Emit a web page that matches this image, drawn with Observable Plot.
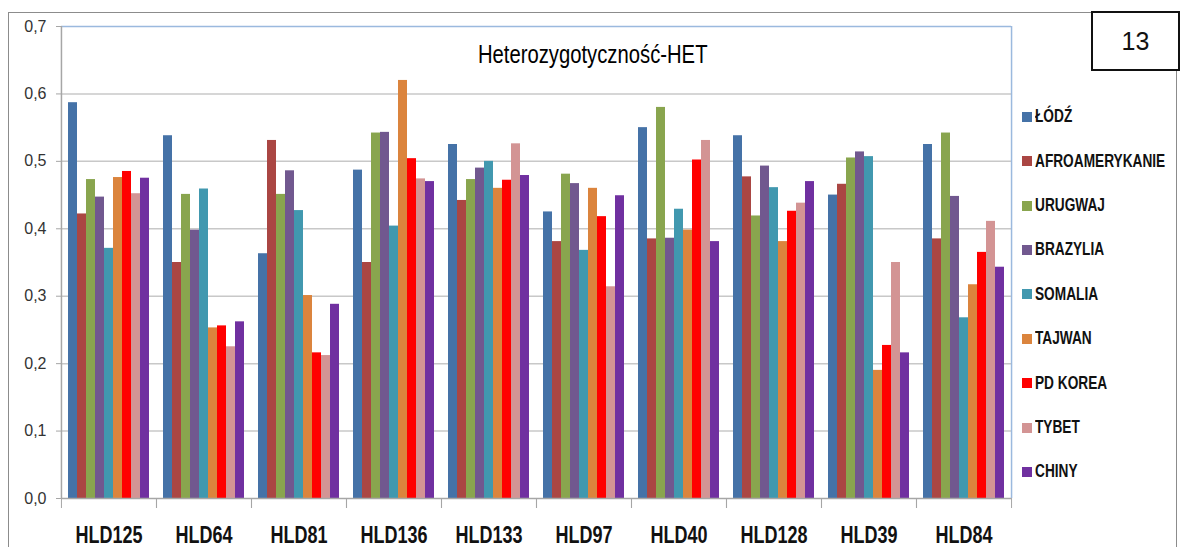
<!DOCTYPE html>
<html>
<head>
<meta charset="utf-8">
<script src="https://cdn.jsdelivr.net/npm/d3@7"></script>
<script src="https://cdn.jsdelivr.net/npm/@observablehq/plot@0.6"></script>
<style>
  html, body { margin: 0; padding: 0; background: #fff; }
  #wrap { position: relative; width: 1182px; height: 547px; overflow: hidden; background: #fff; }
  #wrap svg { position: absolute; left: 0; top: 0; }
  #border { position: absolute; left: 8px; top: 12px; width: 1169px; height: 600px; border: 1.5px solid #8c8c8c; box-sizing: border-box; }
  #title { position: absolute; left: 0; width: 1186px; top: 40px; text-align: center; font-family: "Liberation Sans", Arial, sans-serif; font-size: 25px; color: #000; }
  #title span { display: inline-block; transform: scaleX(0.81); transform-origin: center; }
  #box { position: absolute; left: 1091px; top: 11px; width: 89px; height: 60px; border: 2px solid #111; box-sizing: border-box; background: #fff; font-family: "Liberation Sans", Arial, sans-serif; font-size: 25px; color: #111; display: flex; align-items: center; justify-content: center; }
  #legend { position: absolute; left: 1022px; top: 0; font-family: "Liberation Sans", Arial, sans-serif; font-weight: bold; font-size: 18px; color: #111; }
  .item { position: absolute; left: 0; display: flex; align-items: center; white-space: nowrap; height: 20px; }
  .sw { width: 10px; height: 10px; margin-right: 3px; flex: none; }
  .item span { display: inline-block; transform: scaleX(0.76); transform-origin: left center; }
</style>
</head>
<body>
<div id="wrap">
  <div id="border"></div>
  <div id="title"></div>
  <div id="box">13</div>
  <div id="legend"></div>
</div>
<script>
const chartTitle = "Heterozygotyczność-HET";
const groups = ["HLD125", "HLD64", "HLD81", "HLD136", "HLD133", "HLD97", "HLD40", "HLD128", "HLD39", "HLD84"];
const series = ["ŁÓDŹ", "AFROAMERYKANIE", "URUGWAJ", "BRAZYLIA", "SOMALIA", "TAJWAN", "PD KOREA", "TYBET", "CHINY"];
const colors = ["#4572a7", "#aa4643", "#89a54e", "#71588f", "#4198af", "#db843d", "#ff0000", "#d39494", "#7030a0"];

const lodz      = [0.587, 0.538, 0.363, 0.487, 0.525, 0.425, 0.550, 0.538, 0.450, 0.525];
const afro      = [0.422, 0.350, 0.531, 0.350, 0.442, 0.381, 0.385, 0.477, 0.466, 0.385];
const urugwaj   = [0.473, 0.451, 0.451, 0.542, 0.473, 0.481, 0.580, 0.419, 0.505, 0.542];
const brazylia  = [0.447, 0.398, 0.486, 0.543, 0.490, 0.467, 0.386, 0.493, 0.514, 0.448];
const somalia   = [0.371, 0.459, 0.427, 0.404, 0.500, 0.368, 0.429, 0.461, 0.507, 0.268];
const tajwan    = [0.476, 0.253, 0.301, 0.620, 0.460, 0.460, 0.398, 0.381, 0.190, 0.317];
const pdKorea   = [0.485, 0.256, 0.216, 0.504, 0.472, 0.418, 0.502, 0.426, 0.227, 0.365];
const tybet     = [0.452, 0.225, 0.212, 0.474, 0.526, 0.314, 0.531, 0.438, 0.350, 0.411];
const chiny     = [0.475, 0.262, 0.288, 0.470, 0.479, 0.449, 0.381, 0.470, 0.216, 0.343];
const yTicks = [0, 0.1, 0.2, 0.3, 0.4, 0.5, 0.6, 0.7];

const valuesBySeries = [lodz, afro, urugwaj, brazylia, somalia, tajwan, pdKorea, tybet, chiny];
const data = [];
groups.forEach((g, gi) => series.forEach((s, si) => data.push({group: g, series: s, value: valuesBySeries[si][gi]})));

const W = 1182, H = 547, mL = 60, mR = 171, mT = 26, mB = 49;
const step = (W - mL - mR) / groups.length;
const font = "'Liberation Sans', Arial, sans-serif";

const plot = Plot.plot({
  width: W, height: H,
  marginLeft: mL, marginRight: mR, marginTop: mT, marginBottom: mB,
  style: {fontFamily: font, background: "transparent", overflow: "visible"},
  fx: {domain: groups, paddingInner: 0, paddingOuter: 0, label: null},
  x: {domain: series, paddingInner: 0, paddingOuter: 0.755, axis: null},
  y: {domain: [0, 0.7], label: null},
  color: {domain: series, range: colors},
  marks: [
    Plot.gridY({ticks: yTicks.slice(1, -1), stroke: "#c8c8c8", strokeOpacity: 1, strokeWidth: 1.5}),
    Plot.gridY({ticks: [0.7], stroke: "#9bb9de", strokeOpacity: 1, strokeWidth: 1.5}),
    Plot.gridFx({ticks: [groups[0]], dx: -step / 2, stroke: "#a6a6a6", strokeOpacity: 1, strokeWidth: 1.5}),
    Plot.gridFx({ticks: [groups[groups.length - 1]], dx: step / 2, stroke: "#9bb9de", strokeOpacity: 1, strokeWidth: 1.5}),
    Plot.barY(data, {fx: "group", x: "series", y: "value", fill: "series"}),
    Plot.ruleY([0], {stroke: "#a6a6a6", strokeWidth: 1.5}),
    Plot.axisY({ticks: yTicks, tickSize: 5, tickPadding: 10, stroke: "#a6a6a6",
      tickFormat: d => d.toFixed(1).replace(".", ","), fontSize: 16, fill: "#333", label: null}),
    Plot.axisFx({anchor: "bottom", tickSize: 10, dx: -step / 2, stroke: "#a6a6a6", tickFormat: () => "", label: null}),
    Plot.axisFx({anchor: "bottom", tickSize: 10, dx: step / 2, stroke: "#a6a6a6", tickFormat: () => "", label: null}),
    Plot.axisFx({anchor: "bottom", tickSize: 0, tickPadding: 27, fontSize: 24, fontWeight: "bold", fill: "#111", label: null})
  ]
});
document.getElementById("wrap").insertBefore(plot, document.getElementById("border"));

// narrow the group labels horizontally (reference font is condensed)
d3.select(plot).selectAll('g[aria-label="fx-axis tick label"] text').each(function () {
  const t = this.getAttribute("transform") || "";
  this.setAttribute("transform", t + " scale(0.75,1)");
});

const titleSpan = document.createElement("span");
titleSpan.textContent = chartTitle;
document.getElementById("title").appendChild(titleSpan);

const legend = document.getElementById("legend");
series.forEach((s, i) => {
  const item = document.createElement("div");
  item.className = "item";
  item.style.top = (106.7 + i * 44.4) + "px";
  const sw = document.createElement("div");
  sw.className = "sw";
  sw.style.background = colors[i];
  const t = document.createElement("span");
  t.textContent = s;
  item.appendChild(sw);
  item.appendChild(t);
  legend.appendChild(item);
});
</script>
</body>
</html>
